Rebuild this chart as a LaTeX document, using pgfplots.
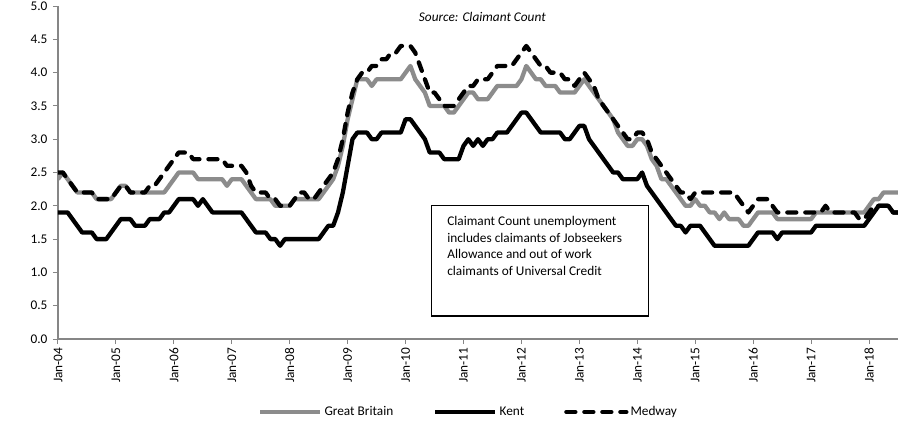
\documentclass[border=0pt]{standalone}
\usepackage{pgfplots}
\pgfplotsset{compat=1.18}
\usepackage{pgfplotstable}
\usepackage{fontspec}
\setmainfont{Carlito}
\definecolor{gbgray}{HTML}{8C8C8C}
\definecolor{axgray}{HTML}{868686}
\pgfplotstableread{
m gb kent medway
0 2.4 1.9 2.5
1 2.5 1.9 2.5
2 2.4 1.9 2.4
3 2.3 1.8 2.3
4 2.2 1.7 2.2
5 2.2 1.6 2.2
6 2.2 1.6 2.2
7 2.2 1.6 2.2
8 2.1 1.5 2.1
9 2.1 1.5 2.1
10 2.1 1.5 2.1
11 2.1 1.6 2.1
12 2.2 1.7 2.2
13 2.3 1.8 2.3
14 2.3 1.8 2.3
15 2.2 1.8 2.2
16 2.2 1.7 2.2
17 2.2 1.7 2.2
18 2.2 1.7 2.2
19 2.2 1.8 2.3
20 2.2 1.8 2.3
21 2.2 1.8 2.4
22 2.2 1.9 2.5
23 2.3 1.9 2.6
24 2.4 2.0 2.7
25 2.5 2.1 2.8
26 2.5 2.1 2.8
27 2.5 2.1 2.8
28 2.5 2.1 2.7
29 2.4 2.0 2.7
30 2.4 2.1 2.7
31 2.4 2.0 2.7
32 2.4 1.9 2.7
33 2.4 1.9 2.7
34 2.4 1.9 2.7
35 2.3 1.9 2.6
36 2.4 1.9 2.6
37 2.4 1.9 2.6
38 2.4 1.9 2.6
39 2.3 1.8 2.5
40 2.2 1.7 2.3
41 2.1 1.6 2.2
42 2.1 1.6 2.2
43 2.1 1.6 2.2
44 2.1 1.5 2.1
45 2.0 1.5 2.1
46 2.0 1.4 2.0
47 2.0 1.5 2.0
48 2.0 1.5 2.0
49 2.1 1.5 2.1
50 2.1 1.5 2.2
51 2.1 1.5 2.2
52 2.1 1.5 2.1
53 2.1 1.5 2.1
54 2.1 1.5 2.2
55 2.2 1.6 2.3
56 2.3 1.7 2.4
57 2.4 1.7 2.5
58 2.6 1.9 2.7
59 2.9 2.2 3.0
60 3.3 2.6 3.4
61 3.6 3.0 3.7
62 3.9 3.1 3.9
63 3.9 3.1 4.0
64 3.9 3.1 4.0
65 3.8 3.0 4.1
66 3.9 3.0 4.1
67 3.9 3.1 4.2
68 3.9 3.1 4.2
69 3.9 3.1 4.3
70 3.9 3.1 4.3
71 3.9 3.1 4.4
72 4.0 3.3 4.4
73 4.1 3.3 4.4
74 3.9 3.2 4.3
75 3.8 3.1 4.1
76 3.7 3.0 3.9
77 3.5 2.8 3.7
78 3.5 2.8 3.7
79 3.5 2.8 3.6
80 3.5 2.7 3.5
81 3.4 2.7 3.5
82 3.4 2.7 3.5
83 3.5 2.7 3.6
84 3.6 2.9 3.7
85 3.7 3.0 3.8
86 3.7 2.9 3.8
87 3.6 3.0 3.9
88 3.6 2.9 3.9
89 3.6 3.0 3.9
90 3.7 3.0 4.0
91 3.8 3.1 4.1
92 3.8 3.1 4.1
93 3.8 3.1 4.1
94 3.8 3.2 4.1
95 3.8 3.3 4.2
96 3.9 3.4 4.3
97 4.1 3.4 4.4
98 4.0 3.3 4.3
99 3.9 3.2 4.2
100 3.9 3.1 4.1
101 3.8 3.1 4.1
102 3.8 3.1 4.0
103 3.8 3.1 4.0
104 3.7 3.1 4.0
105 3.7 3.0 3.9
106 3.7 3.0 3.9
107 3.7 3.1 3.8
108 3.8 3.2 3.9
109 3.9 3.2 4.0
110 3.8 3.0 3.9
111 3.7 2.9 3.8
112 3.6 2.8 3.6
113 3.5 2.7 3.5
114 3.4 2.6 3.4
115 3.3 2.5 3.3
116 3.1 2.5 3.2
117 3.0 2.4 3.1
118 2.9 2.4 3.0
119 2.9 2.4 3.0
120 3.0 2.4 3.1
121 3.0 2.5 3.1
122 2.9 2.3 3.0
123 2.7 2.2 2.8
124 2.6 2.1 2.7
125 2.4 2.0 2.6
126 2.4 1.9 2.5
127 2.3 1.8 2.4
128 2.2 1.7 2.3
129 2.1 1.7 2.2
130 2.0 1.6 2.2
131 2.0 1.7 2.1
132 2.1 1.7 2.2
133 2.0 1.7 2.2
134 2.0 1.6 2.2
135 1.9 1.5 2.2
136 1.9 1.4 2.2
137 1.8 1.4 2.2
138 1.9 1.4 2.2
139 1.8 1.4 2.2
140 1.8 1.4 2.2
141 1.8 1.4 2.1
142 1.7 1.4 2.0
143 1.7 1.4 1.9
144 1.8 1.5 2.0
145 1.9 1.6 2.1
146 1.9 1.6 2.1
147 1.9 1.6 2.1
148 1.9 1.6 2.0
149 1.8 1.5 1.9
150 1.8 1.6 1.9
151 1.8 1.6 1.9
152 1.8 1.6 1.9
153 1.8 1.6 1.9
154 1.8 1.6 1.9
155 1.8 1.6 1.9
156 1.8 1.6 1.9
157 1.9 1.7 1.9
158 1.9 1.7 1.9
159 1.9 1.7 2.0
160 1.9 1.7 1.9
161 1.9 1.7 1.9
162 1.9 1.7 1.9
163 1.9 1.7 1.9
164 1.9 1.7 1.9
165 1.9 1.7 1.9
166 1.9 1.7 1.8
167 1.9 1.7 1.8
168 2.0 1.8 1.9
169 2.1 1.9 2.0
170 2.1 2.0 2.0
171 2.2 2.0 2.0
172 2.2 2.0 2.0
173 2.2 1.9 1.9
174 2.2 1.9 1.9
}\datatable

\begin{document}
\begin{tikzpicture}
\useasboundingbox (-58pt,-85pt) rectangle (840pt,339pt);
\begin{axis}[
  scale only axis,
  width=840pt, height=333pt,
  xmin=0, xmax=174, ymin=0, ymax=5,
  axis x line*=bottom, axis y line*=left,
  axis line style={axgray, line width=1.3pt},
  xtick={0,12,24,36,48,60,72,84,96,108,120,132,144,156,168},
  xticklabels={Jan-04,Jan-05,Jan-06,Jan-07,Jan-08,Jan-09,Jan-10,Jan-11,Jan-12,Jan-13,Jan-14,Jan-15,Jan-16,Jan-17,Jan-18},
  ytick={0,0.5,1,1.5,2,2.5,3,3.5,4,4.5,5},
  yticklabel style={xshift=-2pt, /pgf/number format/.cd, fixed, fixed zerofill, precision=1, assume math mode=true},
  ticklabel style={font=\fontsize{13.3}{16}\selectfont, black},
  xticklabel style={rotate=90, anchor=east},
  tick style={axgray, line width=1pt},
  tick align=outside,
  major tick length=5pt,
  clip mode=individual,
  legend columns=3,
  legend style={at={(axis description cs:0.2381,0)}, anchor=west, yshift=-73pt,
    draw=none, fill=none, inner xsep=0pt, inner ysep=0pt,
    font=\fontsize{13.3}{16}\selectfont,
    /tikz/every even column/.append style={column sep=38pt}},
  legend image code/.code={\draw[#1] (0pt,0pt) -- (60pt,0pt);},
]
\addplot[gbgray, line width=4.3pt, line join=round] table[x=m, y=gb] {\datatable};
\addlegendentry{Great Britain}
\addplot[black, line width=4.3pt, line join=round] table[x=m, y=kent] {\datatable};
\addlegendentry{Kent}
\addplot[black, line width=4.3pt, line join=round, line cap=round, dash pattern=on 9pt off 9pt] table[x=m, y=medway] {\datatable};
\addlegendentry{Medway}
\draw[black, line width=1.2pt] (axis cs:77.3,0.345) rectangle (axis cs:122.3,2.0);
\node[anchor=north west, align=left, inner sep=0pt, font=\fontsize{13.3}{16.5}\selectfont] at (axis cs:80.6,1.84) {Claimant Count unemployment\\includes claimants of Jobseekers\\Allowance and out of work\\claimants of Universal Credit};
\node[font=\itshape\fontsize{13.3}{16}\selectfont] at (axis cs:87.9,4.835) {Source: Claimant Count};
\end{axis}
\end{tikzpicture}
\end{document}
